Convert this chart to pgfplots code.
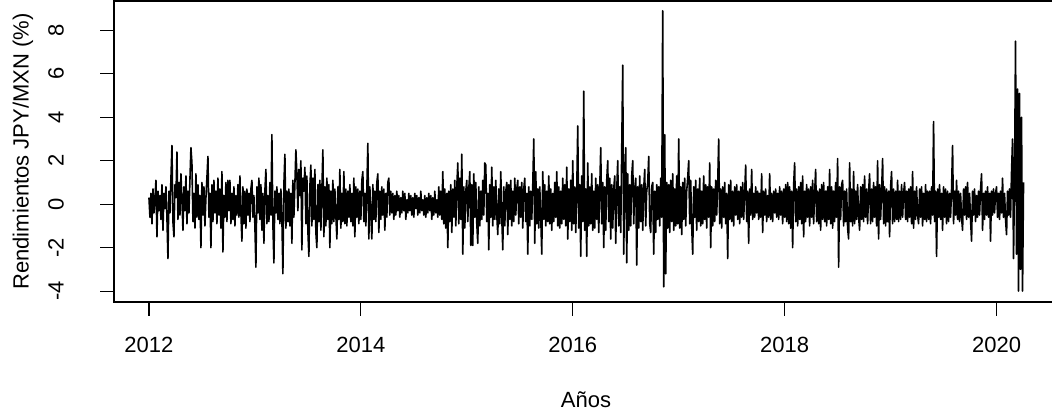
\documentclass[border=0pt]{standalone}
\usepackage{pgfplots}
\pgfplotsset{compat=1.18}
\usepackage{fontspec}
\setmainfont{Liberation Sans}
\begin{document}
\begin{tikzpicture}
\begin{axis}[
  scale only axis, width=472pt, height=150.5pt,
  xmin=2011.67, xmax=2020.58, ymin=-4.5, ymax=9.35,
  axis line style={line width=0.6pt},
  tick style={line width=0.6pt, black},
  major tick length=7pt, tick align=outside,
  xtick pos=left, ytick pos=left,
  xtick={2012,2014,2016,2018,2020},
  xticklabels={2012,2014,2016,2018,2020},
  ytick={-4,-2,0,2,4,6,8},
  yticklabels={{-4},{-2},0,2,4,6,8},
  tick label style={font=\fontsize{11}{13}\selectfont},
  xticklabel style={anchor=base, yshift=-18pt},
  yticklabel style={anchor=center, xshift=-22pt, rotate=90},
  every axis x label/.style={at={(axis description cs:0.5,-0.3256)}, anchor=center, font=\fontsize{11}{13}\selectfont},
  every axis y label/.style={at={(axis description cs:-0.0964,0.5)}, anchor=center, rotate=90, font=\fontsize{11}{13}\selectfont},
  xlabel={Años},
  ylabel={Rendimientos JPY/MXN (\%)},
  clip=true,
]
\addplot[black, mark=none, line width=0.8pt, line join=round] table[row sep=\\, header=false, x expr=2012+\coordindex/106, y index=0] {
0.3\\ -0.6\\ 0.5\\ -0.9\\ 0.7\\ -0.4\\ 0.2\\ 1.1\\ -1.5\\ 0.6\\
-0.3\\ 0.4\\ -0.7\\ 0.9\\ -1.2\\ 0.5\\ -0.2\\ 0.8\\ -0.6\\ -2.5\\
0.6\\ -0.4\\ 1.2\\ 2.7\\ -0.8\\ -1.5\\ 0.9\\ 0.3\\ 2.4\\ -0.7\\
1.0\\ -0.5\\ 1.4\\ 0.2\\ -1.2\\ 0.8\\ -0.3\\ 1.3\\ -0.9\\ 0.6\\
-0.4\\ 1.1\\ 2.6\\ 1.9\\ -0.8\\ 0.5\\ -1.1\\ 1.4\\ -0.6\\ 0.9\\
-0.7\\ 0.4\\ -2.0\\ 1.0\\ -0.5\\ 0.8\\ -1.0\\ 0.3\\ 1.2\\ 2.2\\
-0.6\\ 0.5\\ -2.0\\ 0.9\\ -0.8\\ 1.1\\ -0.4\\ 0.6\\ -0.9\\ 1.2\\
-0.5\\ 0.7\\ -1.1\\ 1.5\\ -2.2\\ 0.4\\ -0.6\\ 1.0\\ -0.8\\ 1.1\\
-0.3\\ 1.1\\ -0.9\\ 0.5\\ -0.7\\ 0.8\\ -1.0\\ 0.4\\ -0.5\\ 0.9\\
-0.6\\ 1.3\\ -0.4\\ -1.7\\ 0.8\\ -0.9\\ 0.6\\ -1.1\\ 0.7\\ -0.5\\
0.5\\ -0.8\\ 0.7\\ 1.1\\ -0.6\\ 0.4\\ -1.0\\ -2.9\\ 0.8\\ -0.4\\
1.2\\ -0.7\\ 0.9\\ -1.2\\ 0.5\\ -1.8\\ 0.6\\ 1.6\\ -0.9\\ 0.4\\
-0.8\\ 1.0\\ -0.5\\ 3.2\\ -0.9\\ -2.7\\ 0.6\\ -0.4\\ 0.8\\ -0.7\\
0.5\\ -0.9\\ 0.7\\ -0.6\\ -3.2\\ 0.9\\ 2.3\\ -1.1\\ 0.6\\ -0.8\\
0.7\\ -1.0\\ 0.5\\ -1.8\\ 1.1\\ -0.6\\ 0.9\\ 2.5\\ 1.4\\ -0.3\\
1.6\\ 0.4\\ 2.0\\ -2.1\\ 1.2\\ 0.6\\ 1.7\\ -0.9\\ 1.3\\ -1.2\\
-2.4\\ 0.8\\ 1.8\\ -1.0\\ 1.2\\ -0.7\\ 1.6\\ -1.3\\ -2.0\\ 0.9\\
-0.8\\ 1.1\\ -1.2\\ 0.6\\ 2.5\\ -1.5\\ 0.8\\ -1.0\\ 1.2\\ -0.7\\
0.9\\ -2.0\\ 0.6\\ -0.9\\ 1.1\\ -0.8\\ 0.7\\ -0.5\\ -1.6\\ 0.8\\
-0.7\\ 1.6\\ -1.1\\ 0.5\\ -0.8\\ 1.5\\ -0.9\\ 0.7\\ -1.0\\ 0.6\\
-0.6\\ 0.9\\ -0.8\\ 0.5\\ -1.0\\ 1.2\\ -1.5\\ 0.8\\ -0.6\\ 0.7\\
-0.9\\ 0.6\\ -0.7\\ 1.1\\ 1.5\\ -0.8\\ 0.5\\ -1.0\\ 0.7\\ 2.8\\
-1.6\\ 0.8\\ -0.5\\ -1.6\\ 0.9\\ -0.7\\ 0.6\\ -0.8\\ 1.0\\ 1.4\\
-1.3\\ 0.6\\ -0.7\\ 0.8\\ -0.5\\ 0.7\\ -1.2\\ 0.5\\ -0.6\\ 1.0\\
1.2\\ -0.5\\ 0.6\\ -0.4\\ 0.5\\ -0.7\\ 0.4\\ -0.5\\ 0.6\\ -0.3\\
0.4\\ -0.6\\ 0.3\\ -0.4\\ 0.6\\ -0.3\\ 0.5\\ -0.7\\ 0.2\\ -0.4\\
0.5\\ -0.3\\ 0.4\\ -0.5\\ 0.3\\ -0.6\\ 0.5\\ -0.2\\ 0.4\\ -0.5\\
0.3\\ -0.4\\ 0.6\\ -0.3\\ 0.2\\ -0.5\\ 0.4\\ -0.6\\ 0.3\\ -0.4\\
0.5\\ -0.3\\ 0.4\\ -0.7\\ 0.3\\ -0.5\\ 0.6\\ -0.4\\ 0.2\\ -0.6\\
0.8\\ -0.5\\ 0.6\\ -0.7\\ 1.5\\ -0.9\\ 0.7\\ -1.1\\ 0.5\\ -2.0\\
0.6\\ -0.8\\ 0.9\\ -1.3\\ 0.7\\ -0.6\\ 1.1\\ -1.0\\ 0.8\\ 1.9\\
-0.9\\ 1.2\\ -0.7\\ 2.3\\ -2.3\\ 0.8\\ -1.1\\ 0.6\\ 1.1\\ -0.8\\
0.7\\ 1.5\\ -1.9\\ 0.9\\ -1.9\\ 1.4\\ -0.6\\ 1.0\\ -0.9\\ -1.8\\
0.8\\ -1.0\\ 0.6\\ -0.7\\ 1.1\\ -0.5\\ 1.9\\ 1.8\\ -0.8\\ 0.5\\
-2.1\\ 0.9\\ -0.6\\ 1.7\\ -1.0\\ 0.8\\ -0.7\\ 1.1\\ -0.5\\ -1.4\\
0.7\\ -0.9\\ 1.5\\ -0.6\\ -2.1\\ 0.8\\ -1.0\\ 0.6\\ 1.0\\ -1.4\\
0.9\\ -0.7\\ 1.1\\ -1.0\\ 0.6\\ -0.8\\ 1.2\\ -0.5\\ 0.7\\ 1.1\\
-0.9\\ 0.8\\ -0.6\\ 1.0\\ -1.1\\ 0.7\\ 1.2\\ -0.8\\ 0.5\\ -2.3\\
0.8\\ -1.0\\ 0.6\\ -0.7\\ 0.9\\ 3.0\\ -1.8\\ 1.5\\ -0.9\\ 0.7\\
-1.1\\ 0.8\\ -0.6\\ -2.3\\ 1.5\\ -0.7\\ 0.9\\ -1.0\\ 0.6\\ -0.8\\
1.3\\ -0.9\\ 0.7\\ -1.2\\ 0.5\\ -0.8\\ 1.0\\ -0.6\\ 1.5\\ -1.0\\
0.8\\ -1.1\\ 0.6\\ -0.9\\ 1.2\\ -0.7\\ 0.9\\ -1.0\\ 1.7\\ -1.6\\
0.7\\ -0.8\\ 1.1\\ -1.2\\ 2.0\\ -0.9\\ 0.8\\ -1.3\\ 0.6\\ 3.6\\
-1.1\\ 0.9\\ -2.4\\ 1.3\\ -0.8\\ 5.2\\ -1.2\\ 0.7\\ -2.4\\ 1.9\\
-1.0\\ 0.8\\ -0.9\\ 1.4\\ -1.2\\ 0.6\\ -1.1\\ 1.2\\ -0.7\\ 0.9\\
-1.3\\ 0.7\\ 2.6\\ -0.9\\ 1.0\\ -2.0\\ 0.8\\ -1.2\\ 1.1\\ 2.0\\
-0.8\\ 1.2\\ -1.6\\ 0.9\\ -1.1\\ 0.7\\ 1.3\\ -1.8\\ 0.6\\ 2.0\\
-1.0\\ 0.8\\ -1.3\\ 2.5\\ 6.4\\ -2.3\\ 1.1\\ 2.6\\ -2.7\\ 1.4\\
-1.2\\ 0.9\\ -1.0\\ 1.3\\ 2.0\\ -0.9\\ 0.7\\ 1.2\\ -2.8\\ 0.8\\
-1.1\\ 1.3\\ -0.8\\ 0.9\\ -1.2\\ 0.7\\ 1.6\\ -1.0\\ 0.6\\ 1.0\\
2.2\\ -0.9\\ -1.3\\ 0.8\\ 1.0\\ -2.3\\ 0.6\\ -1.3\\ 0.9\\ -0.7\\
0.8\\ -1.0\\ 1.2\\ -0.6\\ 8.9\\ -3.8\\ 3.2\\ -3.2\\ 1.0\\ -1.1\\
0.9\\ -1.3\\ 1.1\\ -0.8\\ 1.4\\ -1.2\\ 0.7\\ -1.0\\ 1.3\\ -0.9\\
3.0\\ -1.1\\ 0.8\\ -1.4\\ 1.0\\ -0.7\\ 1.2\\ -1.0\\ 0.6\\ 1.2\\
2.0\\ -0.9\\ 1.1\\ -1.0\\ -2.3\\ 0.8\\ -0.6\\ 1.1\\ -1.2\\ 0.7\\
-0.8\\ 1.2\\ -1.0\\ 0.6\\ -0.9\\ 1.3\\ -0.7\\ 0.9\\ -1.1\\ 0.8\\
-0.6\\ 1.9\\ -2.0\\ 0.8\\ -1.0\\ 0.7\\ -0.8\\ 1.1\\ -0.5\\ 0.9\\
3.0\\ -0.9\\ 0.7\\ -1.1\\ 0.8\\ -0.6\\ 1.0\\ -0.9\\ 0.5\\ -2.5\\
0.9\\ -0.7\\ 1.1\\ -0.8\\ 0.6\\ -1.0\\ 0.8\\ -0.5\\ 0.9\\ -0.7\\
0.6\\ -0.9\\ 0.8\\ -0.6\\ 1.0\\ -0.7\\ 0.5\\ 1.8\\ -0.8\\ 0.6\\
-1.8\\ 0.7\\ -0.5\\ 1.6\\ -0.7\\ 0.5\\ -0.6\\ 0.8\\ -0.4\\ 0.6\\
-0.7\\ 0.5\\ -0.6\\ 1.4\\ -1.3\\ 0.6\\ -0.5\\ 0.7\\ -0.8\\ 0.4\\
-0.6\\ 1.4\\ -0.7\\ 0.5\\ -0.8\\ 0.6\\ -0.4\\ 0.7\\ -0.6\\ 0.5\\
-0.7\\ 0.8\\ -0.5\\ 0.6\\ -0.9\\ 0.7\\ -0.6\\ 0.9\\ -0.8\\ 1.0\\
-0.9\\ 0.8\\ -1.1\\ 0.6\\ -2.0\\ 0.9\\ 1.9\\ -0.8\\ 0.7\\ -1.0\\
0.8\\ -0.7\\ 1.0\\ -0.9\\ 1.3\\ -1.5\\ 0.6\\ -0.8\\ 0.9\\ -0.6\\
0.7\\ -1.0\\ 0.8\\ -0.6\\ 1.1\\ -0.9\\ 0.5\\ 1.6\\ -0.8\\ 0.6\\
-0.9\\ 0.7\\ -1.2\\ 0.9\\ -0.7\\ 1.0\\ -0.8\\ 0.6\\ -1.0\\ 0.8\\
-0.7\\ 1.6\\ -0.9\\ 0.8\\ -1.1\\ 0.6\\ -0.8\\ 1.0\\ -0.6\\ 2.1\\
-2.9\\ 0.8\\ -0.7\\ 0.9\\ 1.1\\ -1.0\\ 0.6\\ -0.8\\ 0.7\\ -1.1\\
-1.6\\ 1.9\\ -0.8\\ 0.7\\ -1.0\\ 1.5\\ -0.9\\ 0.6\\ -0.7\\ 0.9\\
-0.6\\ -1.2\\ 0.8\\ -0.7\\ 0.9\\ -0.8\\ 1.3\\ -0.6\\ 0.7\\ -0.9\\
0.6\\ 1.4\\ -0.9\\ 0.7\\ -0.8\\ 1.0\\ -0.6\\ 0.8\\ -1.0\\ 2.0\\
-1.6\\ 0.9\\ -0.7\\ 0.6\\ 2.1\\ -0.9\\ 0.8\\ -1.0\\ 0.7\\ -0.8\\
0.6\\ -1.5\\ 0.8\\ 1.5\\ -0.9\\ 0.7\\ -0.8\\ 0.6\\ -0.7\\ 1.1\\
-0.8\\ 0.6\\ -0.7\\ 0.9\\ -0.6\\ 0.5\\ 1.0\\ -0.7\\ 0.6\\ -0.8\\
0.7\\ -0.6\\ 0.8\\ -0.9\\ 1.5\\ -1.1\\ 0.6\\ -0.7\\ 0.8\\ -0.5\\
-0.9\\ 0.7\\ -0.6\\ 0.8\\ -1.0\\ 0.5\\ -0.7\\ 0.9\\ -0.8\\ 0.6\\
-0.7\\ 0.6\\ -0.9\\ 0.8\\ -0.5\\ 3.8\\ -0.8\\ 0.6\\ -2.4\\ 0.7\\
-0.6\\ 0.9\\ -0.7\\ 0.5\\ -1.2\\ 0.8\\ -0.6\\ 0.7\\ -0.9\\ 0.6\\
-0.8\\ 0.5\\ -0.6\\ 0.7\\ 2.7\\ -0.9\\ 0.6\\ -0.5\\ 1.1\\ -0.7\\
0.6\\ -0.8\\ 0.5\\ -0.6\\ -1.2\\ 0.7\\ -0.5\\ 0.8\\ -0.7\\ 1.0\\
-0.6\\ 0.5\\ -0.7\\ -1.7\\ 0.6\\ -0.5\\ 0.7\\ -0.8\\ 0.4\\ -0.6\\
0.6\\ -0.5\\ 0.7\\ 1.4\\ -1.2\\ 0.5\\ -0.7\\ 0.6\\ -0.5\\ 0.8\\
-0.6\\ 0.5\\ -1.7\\ 0.6\\ -0.5\\ 0.7\\ -0.4\\ 0.5\\ 0.8\\ -0.6\\
0.5\\ -0.7\\ 0.6\\ -0.4\\ 1.2\\ -0.6\\ 0.5\\ -0.7\\ -1.4\\ 0.6\\
-0.5\\ 0.7\\ -0.6\\ 1.5\\ 3.0\\ -2.5\\ 1.2\\ 7.5\\ -2.3\\ 5.3\\
-4.0\\ 5.1\\ -3.0\\ 4.0\\ -4.0\\ 1.0\\
};
\end{axis}
\pgfresetboundingbox
\path[use as bounding box] (-57pt,-57pt) rectangle (469pt,151pt);
\end{tikzpicture}
\end{document}
